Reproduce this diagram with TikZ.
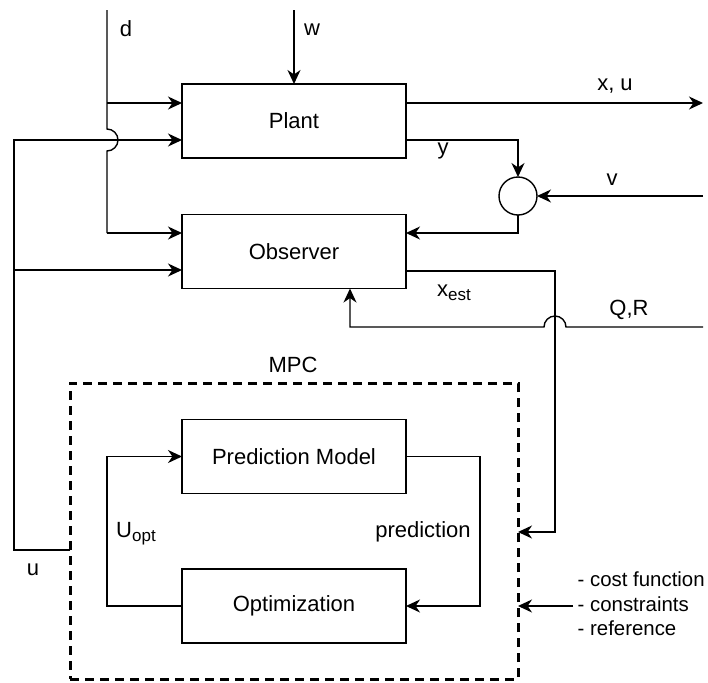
\documentclass[tikz,border=0pt]{standalone}
\usepackage{fontspec}
\setmainfont{Liberation Sans}
\usetikzlibrary{arrows.meta}
\newcommand{\mysub}[1]{\raisebox{-0.35ex}{\fontsize{8.5}{10}\selectfont #1}}
\begin{document}
\begin{tikzpicture}[x=0.5pt,y=-0.5pt,
  font=\fontsize{11}{13}\selectfont,
  line width=0.7pt,
  box/.style={draw,rectangle,minimum width=112pt,minimum height=37pt,inner sep=0pt,outer sep=0pt},
  arr/.style={-{Stealth[length=7pt,width=6.5pt,inset=2.2pt]}},
  lbl/.style={inner sep=0pt}]
\useasboundingbox (0,0) rectangle (708,682);
% boxes
\node[box] (plant) at (294,121) {Plant};
\node[box] (obs) at (294,251.5) {Observer};
\node[box] (pm) at (294,456.5) {Prediction Model};
\node[box] (opt) at (294,606) {Optimization};
\node[draw,circle,minimum size=19pt,inner sep=0pt,outer sep=0pt] (sum) at (518,196) {};
\node[draw,rectangle,dash pattern=on 4.5pt off 3pt,line width=1.5pt,minimum width=224pt,minimum height=148pt,inner sep=0pt,outer sep=0pt] (mpc) at (294,531) {};
% free ends
\coordinate (dtop) at (107,10);
\coordinate (wtop) at (294,10);
\coordinate (xuend) at (703,103);
\coordinate (vin) at (703,196);
\coordinate (qr) at (703,327);
\coordinate (cin) at (573,606);
% d
\draw (dtop) -- (107,129) arc[start angle=90,end angle=-90,radius=5.5pt] -- (107,233);
\draw[arr] (107,233) -- (obs.west |- 0,233);
\draw[arr] (107,103) -- (plant.west |- 0,103);
% w
\draw[arr] (wtop) -- (plant.north);
% u
\draw[arr] (mpc.west |- 0,550) -- (14,550) -- (14,140) -- (plant.west |- 0,140);
\draw[arr] (14,270) -- (obs.west |- 0,270);
% outputs
\draw[arr] (plant.east |- 0,103) -- (xuend);
\draw[arr] (plant.east |- 0,140) -- (518,140) -- (sum.north);
\draw[arr] (vin) -- (sum.east);
\draw[arr] (sum.south) -- (518,233) -- (obs.east |- 0,233);
% x_est
\draw[arr] (obs.east |- 0,271) -- (555,271) -- (555,532) -- (mpc.east |- 0,532);
% Q,R
\draw[arr] (qr) -- (566,327) arc[start angle=0,end angle=180,radius=5.5pt] -- (350,327) -- (obs.south -| 350,0);
% MPC internal
\draw[arr] (opt.west) -- (107,606) -- (107,456.5) -- (pm.west);
\draw[arr] (pm.east) -- (480,456.5) -- (480,606) -- (opt.east);
\draw[arr] (cin) -- (mpc.east |- 0,606);
% labels
\node[lbl] (ld) at (126,29) {d};
\node[lbl] (lw) at (312,30) {w};
\node[lbl] (lxu) at (615,86) {x, u};
\node[lbl] (ly) at (443,151) {y};
\node[lbl] (lv) at (612,180) {v};
\node[lbl] (lxest) at (454,293) {x\mysub{est}};
\node[lbl] (lqr) at (629,310) {Q,R};
\node[lbl] (lmpc) at (293,365) {MPC};
\node[lbl] (luopt) at (136,534) {U\mysub{opt}};
\node[lbl] (lpred) at (423,532) {prediction};
\node[lbl] (lu) at (33,570) {u};
\node[lbl,anchor=west,align=left,font=\fontsize{10.2}{12.2}\selectfont] (lcost) at (577,604) {- cost function\\- constraints\\- reference};
\end{tikzpicture}
\end{document}
